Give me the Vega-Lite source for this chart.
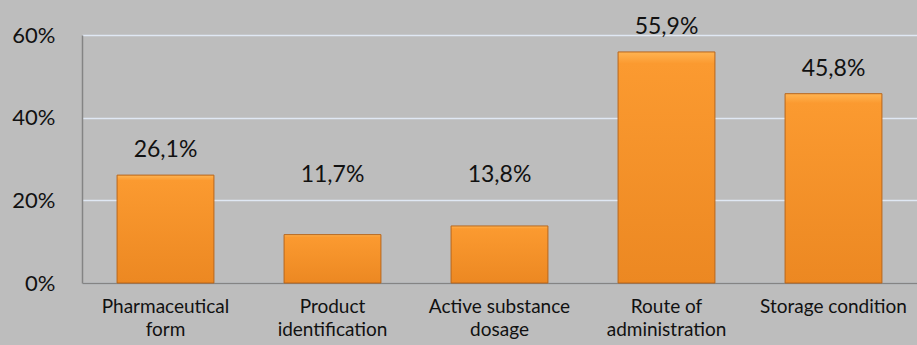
{
  "$schema": "https://vega.github.io/schema/vega-lite/v6.json",
  "autosize": "none",
  "width": 835,
  "height": 248,
  "padding": {"left": 82, "top": 35, "right": 0, "bottom": 62},
  "background": "#bdbdbd",
  "config": {
    "view": {"stroke": null},
    "font": "Lato",
    "axis": {"labelFont": "Lato", "labelColor": "#111111", "domainColor": "#848484", "ticks": false}
  },
  "data": {
    "values": [
      {"category": "Pharmaceutical|form", "value": 0.261, "label": "26,1%"},
      {"category": "Product|identification", "value": 0.117, "label": "11,7%"},
      {"category": "Active substance|dosage", "value": 0.138, "label": "13,8%"},
      {"category": "Route of|administration", "value": 0.559, "label": "55,9%"},
      {"category": "Storage condition", "value": 0.458, "label": "45,8%"}
    ]
  },
  "encoding": {
    "x": {
      "field": "category", "type": "nominal", "sort": null,
      "scale": {"paddingInner": 0.42, "paddingOuter": 0.21},
      "axis": {"title": null, "labelAngle": 0, "labelFontSize": 19, "labelPadding": 14, "labelLineHeight": 23, "labelExpr": "split(datum.label, '|')", "domainWidth": 1.5, "labelLimit": 200}
    }
  },
  "layer": [
    {
      "mark": {
        "type": "bar",
        "stroke": "#b8651a",
        "strokeWidth": 1,
        "color": {
          "gradient": "linear", "x1": 0, "y1": 0, "x2": 0, "y2": 1,
          "stops": [
            {"offset": 0, "color": "#ffb452"},
            {"offset": 0.05, "color": "#fb9a30"},
            {"offset": 1, "color": "#ec8822"}
          ]
        }
      },
      "encoding": {
        "y": {
          "field": "value", "type": "quantitative",
          "scale": {"domain": [0, 0.6]},
          "axis": {"title": null, "format": ".0%", "values": [0, 0.2, 0.4, 0.6], "labelFontSize": 22, "labelPadding": 27, "gridColor": "#e0e8f4", "gridWidth": 1.5, "domainWidth": 1.5}
        }
      }
    },
    {
      "transform": [{"calculate": "max(datum.value, 0.2)", "as": "labelPos"}],
      "mark": {"type": "text", "baseline": "alphabetic", "dy": -18, "fontSize": 23, "color": "#111111", "font": "Lato"},
      "encoding": {
        "y": {"field": "labelPos", "type": "quantitative"},
        "text": {"field": "label"}
      }
    }
  ]
}
